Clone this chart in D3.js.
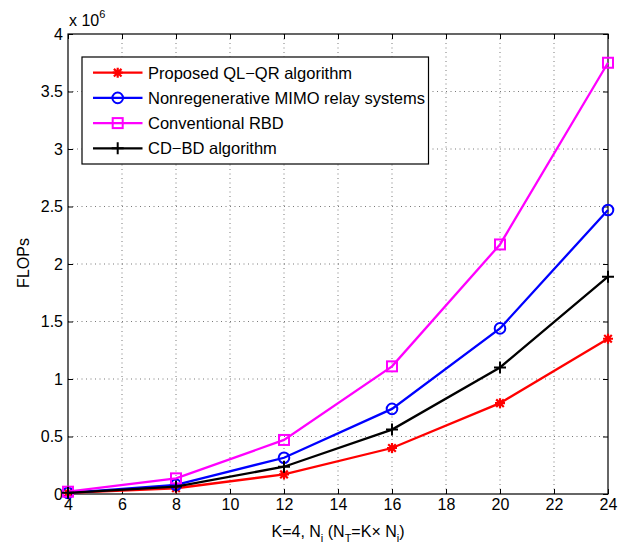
<!DOCTYPE html>
<html><head><meta charset="utf-8">
<script src="https://cdn.jsdelivr.net/npm/d3@7"></script>
<style>body{margin:0;background:#fff;} text{font-family:"Liberation Sans",Arial,sans-serif;}</style>
</head><body><svg id="c" width="635" height="546"></svg>
<script>
const xValues = [4, 8, 12, 16, 20, 24];
const proposedQLQR = [0.01, 0.05, 0.17, 0.40, 0.79, 1.35];
const nonregenerative = [0.01, 0.08, 0.315, 0.74, 1.44, 2.47];
const conventionalRBD = [0.02, 0.136, 0.47, 1.11, 2.17, 3.75];
const cdbd = [0.01, 0.065, 0.237, 0.56, 1.10, 1.89];
const xTicks = [4, 6, 8, 10, 12, 14, 16, 18, 20, 22, 24];
const yTicks = [0, 0.5, 1, 1.5, 2, 2.5, 3, 3.5, 4];
const seriesNames = ["Proposed QL\u2212QR algorithm", "Nonregenerative MIMO relay systems", "Conventional RBD", "CD\u2212BD algorithm"];
const seriesColors = ["#ff0000", "#0000ff", "#ff00ff", "#000000"];
const seriesMarkers = ["star", "circle", "square", "plus"];
const seriesData = [proposedQLQR, nonregenerative, conventionalRBD, cdbd];

const svg = d3.select("#c");
const L = 68, R = 608, T = 34, B = 494;
const x = d3.scaleLinear().domain([4, 24]).range([L, R]);
const y = d3.scaleLinear().domain([0, 4]).range([B, T]);
const FS = 16;

// grid
const g = svg.append("g");
xTicks.slice(1, -1).forEach(t => g.append("line").attr("x1", x(t)).attr("x2", x(t)).attr("y1", T).attr("y2", B)
  .attr("stroke", "#000").attr("stroke-width", 0.7).attr("stroke-dasharray", "1,3.5").attr("opacity", 0.75));
yTicks.slice(1, -1).forEach(t => g.append("line").attr("x1", L).attr("x2", R).attr("y1", y(t)).attr("y2", y(t))
  .attr("stroke", "#000").attr("stroke-width", 0.7).attr("stroke-dasharray", "1,3.5").attr("opacity", 0.75));

// axes
const xAxB = d3.axisBottom(x).tickValues(xTicks).tickSize(-5).tickPadding(5).tickFormat(d3.format("d"));
const xAxT = d3.axisTop(x).tickValues(xTicks).tickSize(-5).tickFormat("");
const yAxL = d3.axisLeft(y).tickValues(yTicks).tickSize(-5).tickPadding(5).tickFormat(d => d3.format("")(d));
const yAxR = d3.axisRight(y).tickValues(yTicks).tickSize(-5).tickFormat("");
function styleAx(sel) {
  sel.select(".domain").remove();
  sel.attr("font-size", FS).attr("font-family", "Liberation Sans, Arial, sans-serif");
  sel.selectAll("line").attr("stroke", "#000").attr("stroke-width", 1);
  sel.selectAll("text").attr("font-size", FS).attr("fill", "#000");
}
svg.append("g").attr("transform", `translate(0,${B})`).call(xAxB).call(styleAx);
svg.append("g").attr("transform", `translate(0,${T})`).call(xAxT).call(styleAx);
svg.append("g").attr("transform", `translate(${L},0)`).call(yAxL).call(styleAx);
svg.append("g").attr("transform", `translate(${R},0)`).call(yAxR).call(styleAx);
svg.append("rect").attr("x", L).attr("y", T).attr("width", R - L).attr("height", B - T)
  .attr("fill", "none").attr("stroke", "#000").attr("stroke-width", 1.2);

// lines
function marker(sel, type, color, cx, cy) {
  if (type === "circle") sel.append("circle").attr("cx", cx).attr("cy", cy).attr("r", 5.3).attr("fill", "none").attr("stroke", color).attr("stroke-width", 2);
  else if (type === "square") sel.append("rect").attr("x", cx - 5).attr("y", cy - 5).attr("width", 10).attr("height", 10).attr("fill", "none").attr("stroke", color).attr("stroke-width", 2);
  else if (type === "plus") sel.append("path").attr("d", `M${cx - 6},${cy}H${cx + 6}M${cx},${cy - 6}V${cy + 6}`).attr("stroke", color).attr("stroke-width", 2);
  else if (type === "star") sel.append("path").attr("d", `M${cx - 5},${cy}H${cx + 5}M${cx},${cy - 5}V${cy + 5}M${cx - 3.8},${cy - 3.8}L${cx + 3.8},${cy + 3.8}M${cx - 3.8},${cy + 3.8}L${cx + 3.8},${cy - 3.8}`).attr("stroke", color).attr("stroke-width", 2.2);
}
const line = d3.line().x((d, i) => x(xValues[i])).y(d => y(d));
[0, 1, 2, 3].forEach(k => {
  const s = svg.append("g");
  s.append("path").datum(seriesData[k]).attr("d", line).attr("fill", "none").attr("stroke", seriesColors[k]).attr("stroke-width", 2.3);
  seriesData[k].forEach((v, i) => marker(s, seriesMarkers[k], seriesColors[k], x(xValues[i]), y(v)));
});

// legend
const lg = svg.append("g");
lg.append("rect").attr("x", 82).attr("y", 57).attr("width", 346.5).attr("height", 107).attr("fill", "#fff").attr("stroke", "#000").attr("stroke-width", 1.2);
seriesNames.forEach((n, k) => {
  const ly = 72.7 + k * 25.2;
  lg.append("line").attr("x1", 93).attr("x2", 142.5).attr("y1", ly).attr("y2", ly).attr("stroke", seriesColors[k]).attr("stroke-width", 2.3);
  marker(lg, seriesMarkers[k], seriesColors[k], 117.7, ly);
  lg.append("text").attr("x", 148).attr("y", ly + 6).attr("font-size", 16.5).text(n);
});

// labels
const xl = svg.append("text").attr("x", 338).attr("y", 537).attr("text-anchor", "middle").attr("font-size", FS);
xl.append("tspan").text("K=4, N");
xl.append("tspan").attr("dy", 5).attr("font-size", 11).text("i");
xl.append("tspan").attr("dy", -5).text(" (N");
xl.append("tspan").attr("dy", 5).attr("font-size", 11).text("T");
xl.append("tspan").attr("dy", -5).text("=K\u00d7 N");
xl.append("tspan").attr("dy", 5).attr("font-size", 11).text("i");
xl.append("tspan").attr("dy", -5).text(")");

svg.append("text").attr("transform", "translate(29,263) rotate(-90)").attr("text-anchor", "middle").attr("font-size", FS).text("FLOPs");

const ex = svg.append("text").attr("x", 69).attr("y", 26).attr("font-size", FS);
ex.append("tspan").text("x 10");
ex.append("tspan").attr("dy", -8).attr("font-size", 11).text("6");
</script></body></html>
